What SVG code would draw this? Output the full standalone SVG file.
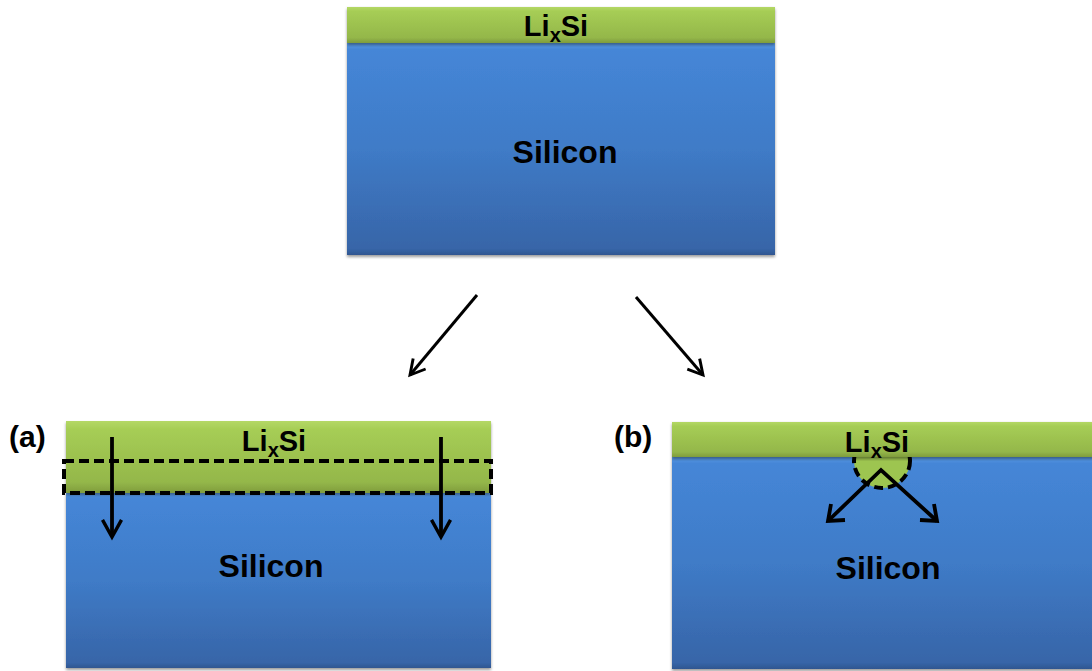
<svg xmlns="http://www.w3.org/2000/svg" width="1092" height="671" viewBox="0 0 1092 671">
  <defs>
    <linearGradient id="gGreen" x1="0" y1="0" x2="0" y2="1">
      <stop offset="0" stop-color="#b4d866"/>
      <stop offset="0.12" stop-color="#a6cd55"/>
      <stop offset="0.85" stop-color="#94b74a"/>
      <stop offset="1" stop-color="#7f9c3c"/>
    </linearGradient>
    <linearGradient id="gBlue" x1="0" y1="0" x2="0" y2="1">
      <stop offset="0" stop-color="#5b9ae3"/>
      <stop offset="0.03" stop-color="#4586d7"/>
      <stop offset="0.5" stop-color="#3f7bc7"/>
      <stop offset="0.97" stop-color="#3765a8"/>
      <stop offset="1" stop-color="#2f5690"/>
    </linearGradient>
    <filter id="shadow" x="-5%" y="-5%" width="110%" height="115%">
      <feGaussianBlur in="SourceAlpha" stdDeviation="1.5"/>
      <feOffset dx="0" dy="1.5" result="b"/>
      <feComponentTransfer><feFuncA type="linear" slope="0.4"/></feComponentTransfer>
      <feMerge><feMergeNode/><feMergeNode in="SourceGraphic"/></feMerge>
    </filter>
    <marker id="vhead" viewBox="0 0 12 12" refX="10" refY="6" markerWidth="6" markerHeight="6" orient="auto" markerUnits="strokeWidth">
      <path d="M1,1 L10,6 L1,11" fill="none" stroke="#000" stroke-width="1.8" stroke-linejoin="miter"/>
    </marker>
    <marker id="vheadThin" viewBox="0 0 12 12" refX="10" refY="6" markerWidth="6.5" markerHeight="6.5" orient="auto" markerUnits="strokeWidth">
      <path d="M1,1 L10,6 L1,11" fill="none" stroke="#000" stroke-width="1.8"/>
    </marker>
  </defs>
  <style>
    .green { fill: url(#gGreen); filter: url(#shadow); }
    .blue { fill: url(#gBlue); filter: url(#shadow); }
    .lbl { font-family: "Liberation Sans", Arial, sans-serif; font-weight: bold; fill: #000; }
    .dash { fill: none; stroke: #000; stroke-width: 4; stroke-dasharray: 10 5; }
    .arr { fill: none; stroke: #000; stroke-width: 3.8; }
    .arrThin { fill: none; stroke: #000; stroke-width: 3; }
  </style>

  <rect width="1092" height="671" fill="#fff"/>

  <!-- starting state: thin lithiated layer on silicon -->
  <g id="top">
    <rect class="blue" x="347" y="43" width="428" height="212"/>
    <rect class="green" x="347" y="7" width="428" height="36"/>
    <text class="lbl" x="556" y="36" font-size="29" text-anchor="middle">Li<tspan font-size="20" dy="6">x</tspan><tspan dy="-6">Si</tspan></text>
    <text class="lbl" x="565" y="163" font-size="32" text-anchor="middle">Silicon</text>
  </g>

  <!-- (a) planar front propagation -->
  <g id="panelA">
    <rect class="blue" x="66" y="493" width="425" height="175"/>
    <rect class="green" x="66" y="421" width="425" height="72"/>
    <text class="lbl" x="274" y="451" font-size="29" text-anchor="middle">Li<tspan font-size="20" dy="6">x</tspan><tspan dy="-6">Si</tspan></text>
    <text class="lbl" x="271" y="577" font-size="32" text-anchor="middle">Silicon</text>
    <rect class="dash" x="64" y="461" width="427" height="32"/>
    <text class="lbl" x="9" y="447" font-size="30">(a)</text>
  </g>

  <!-- (b) localized nucleation and growth -->
  <g id="panelB">
    <rect class="blue" x="672" y="457" width="422" height="212"/>
    <ellipse cx="882" cy="461" rx="28" ry="27" fill="#9dc550" stroke="#000" stroke-width="4" stroke-dasharray="9 5"/>
    <rect class="green" x="672" y="422" width="422" height="35"/>
    <text class="lbl" x="877" y="452" font-size="29" text-anchor="middle">Li<tspan font-size="20" dy="6">x</tspan><tspan dy="-6">Si</tspan></text>
    <text class="lbl" x="888" y="579" font-size="32" text-anchor="middle">Silicon</text>
    <text class="lbl" x="614" y="447" font-size="30">(b)</text>
  </g>

  <!-- connectors -->
  <g id="connectors">
    <line class="arrThin" x1="477" y1="295" x2="410" y2="375" marker-end="url(#vheadThin)"/>
    <line class="arrThin" x1="636" y1="297" x2="703" y2="375" marker-end="url(#vheadThin)"/>
    <line class="arr" x1="112" y1="437" x2="112" y2="537" marker-end="url(#vhead)"/>
    <line class="arr" x1="441" y1="437" x2="441" y2="537" marker-end="url(#vhead)"/>
    <polyline class="arr" points="828,521 881,470 937,521" stroke-linejoin="miter"/>
    <path class="arr" d="M831,504 L828,521 L845,520"/>
    <path class="arr" d="M920,520 L937,521 L934,504"/>
  </g>
</svg>
